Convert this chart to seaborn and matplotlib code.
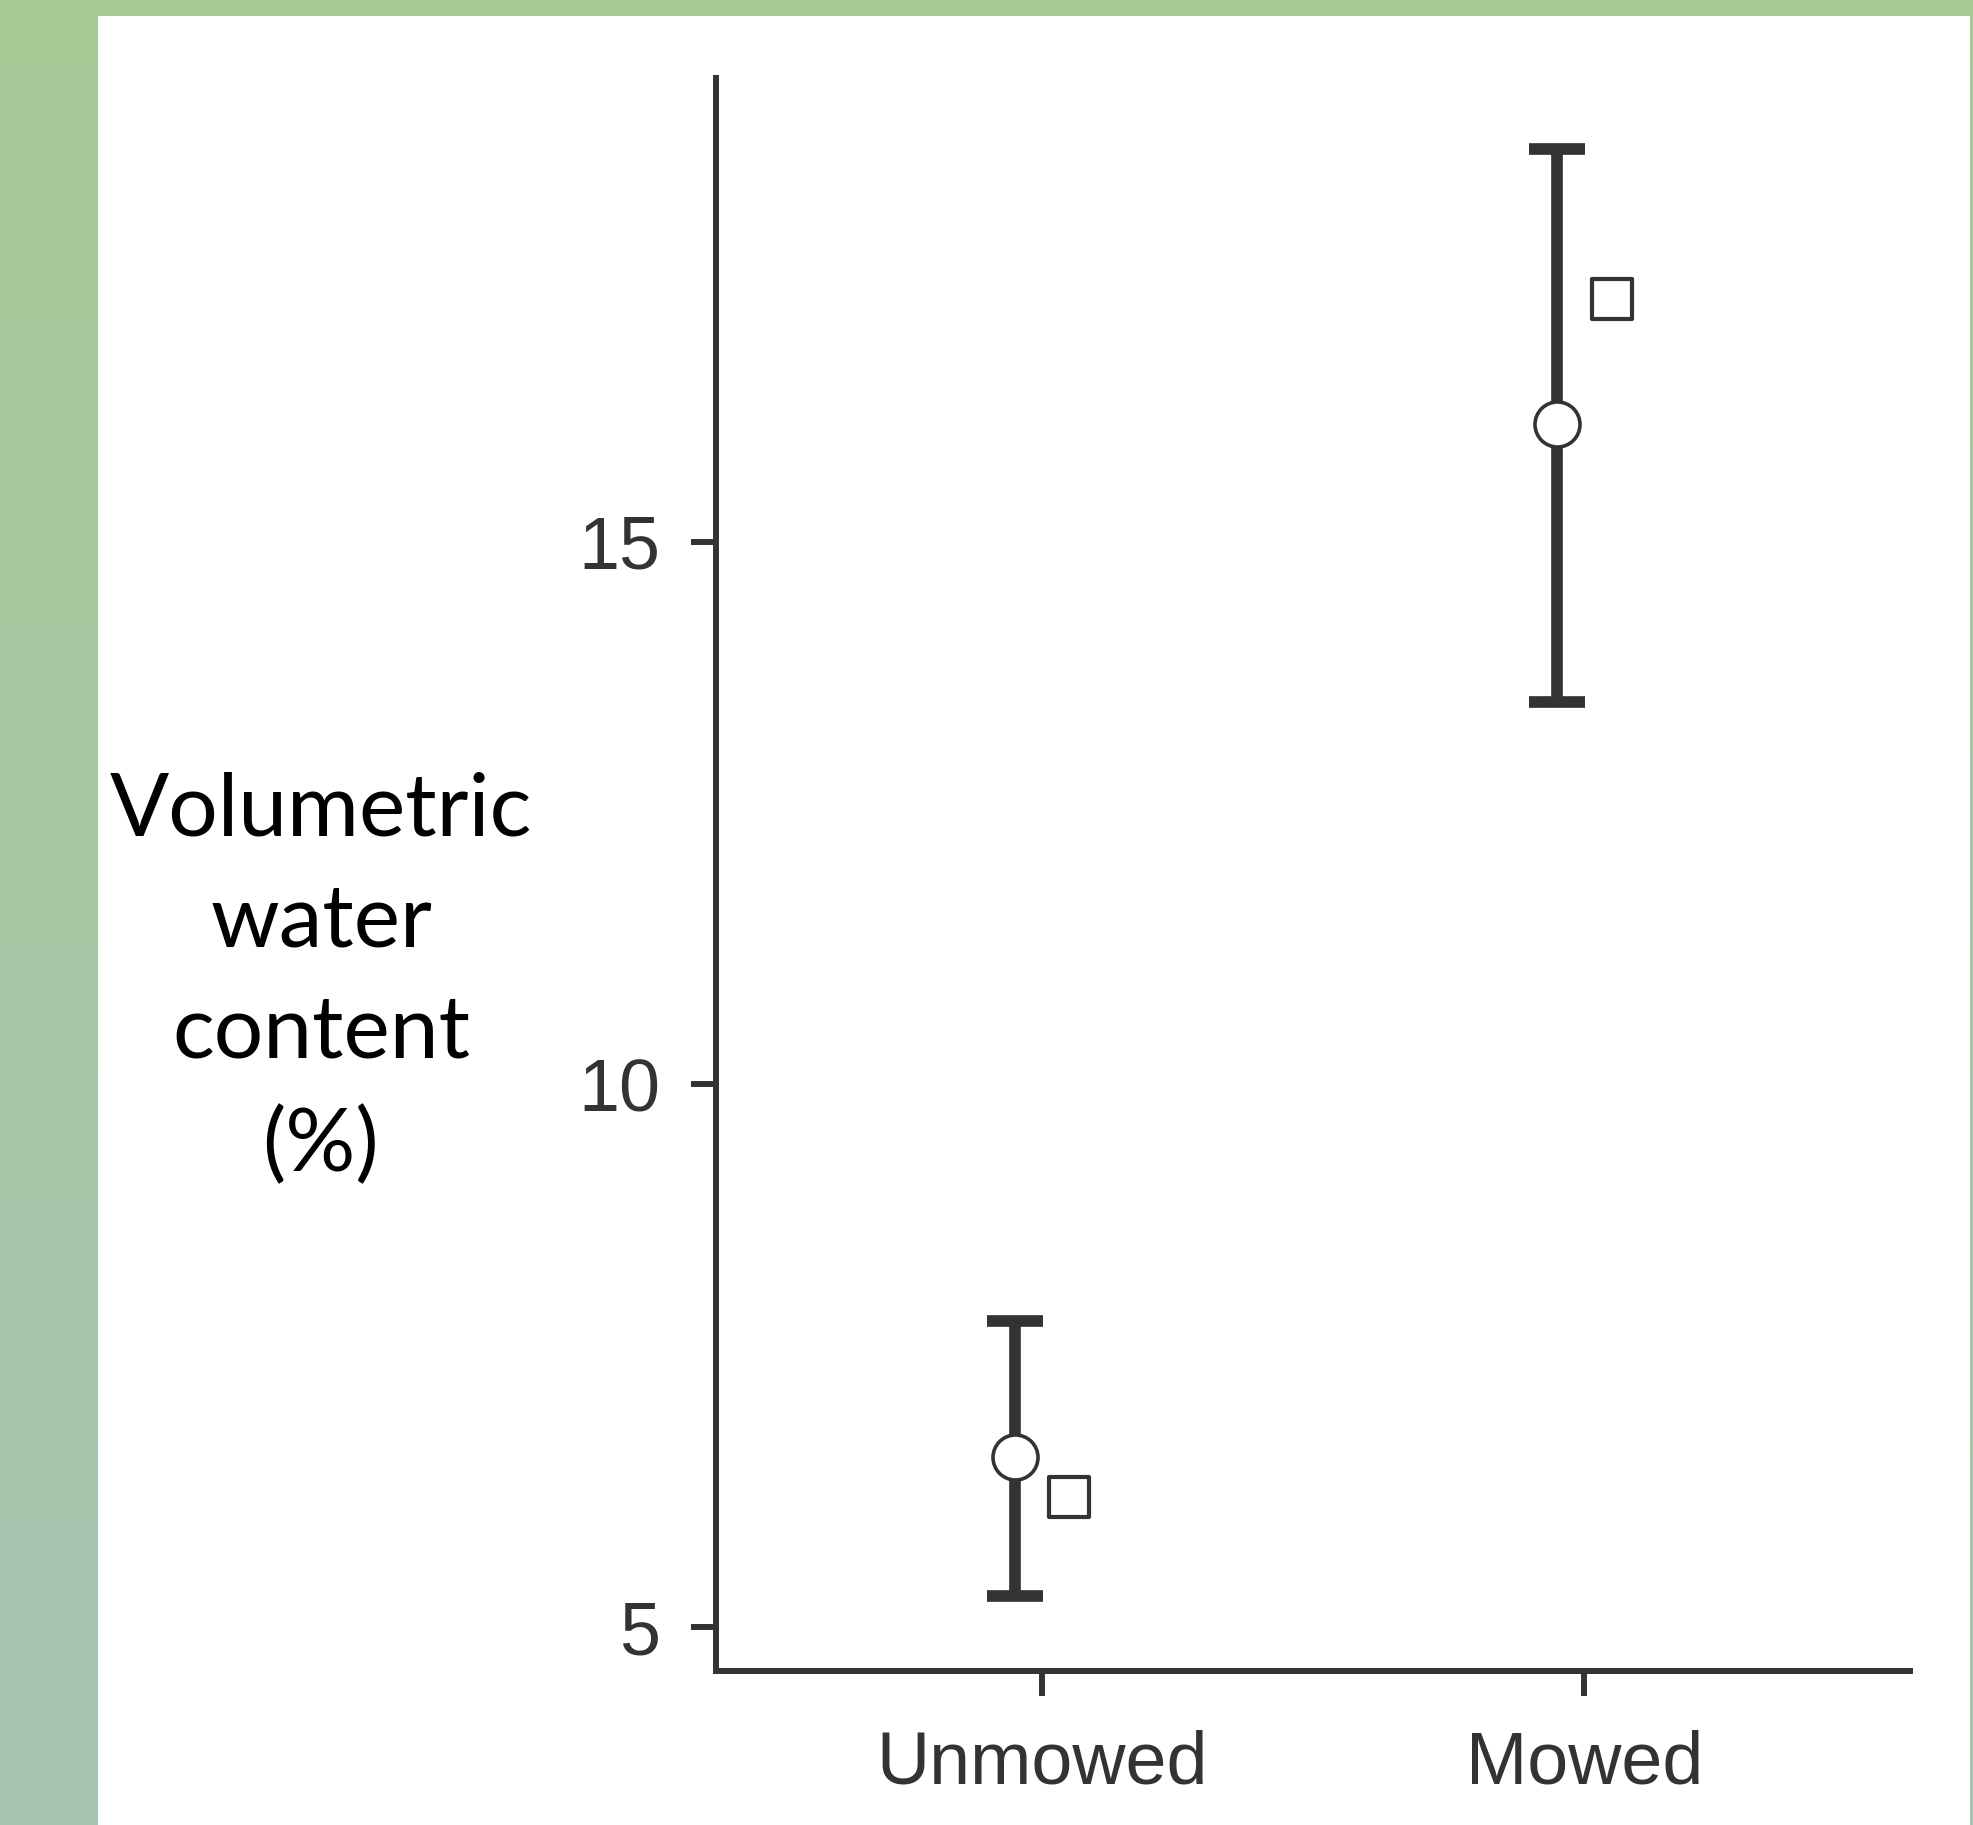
import numpy as np
import pandas as pd
import seaborn as sns
import matplotlib.pyplot as plt
from matplotlib.patches import Rectangle

# data
categories = ["Unmowed", "Mowed"]
mean_vals = [6.57, 16.08]
ci_low = [5.29, 13.52]
ci_high = [7.82, 18.62]
square_vals = [6.2, 17.23]

sns.set_theme(style="ticks")
plt.rcParams['font.family'] = ['Liberation Sans', 'DejaVu Sans']

W, H = 1973, 1825
fig = plt.figure(figsize=(W / 100, H / 100), dpi=100)

# green gradient background with white panel
bg = fig.add_axes([0, 0, 1, 1], zorder=-10)
top = np.array([165, 202, 149]) / 255
bot = np.array([166, 196, 178]) / 255
t = np.linspace(0, 1, 256)[:, None]
grad = (top[None, :] * (1 - t) + bot[None, :] * t)[:, None, :]
bg.imshow(grad, aspect="auto", extent=[0, 1, 0, 1])
bg.add_patch(Rectangle((98 / W, 0), (1970 - 98) / W, 1 - 16 / H,
                       facecolor="white", edgecolor="none"))
bg.set_xlim(0, 1)
bg.set_ylim(0, 1)
bg.axis("off")

ax = fig.add_axes([716 / W, 1 - 1671 / H, (1910 - 716) / W, (1671 - 78) / H])
ax.set_facecolor("none")

idx = np.arange(len(categories))
df = pd.DataFrame({"pos": np.concatenate([idx - 0.05, idx + 0.05]),
                   "value": mean_vals + square_vals,
                   "kind": ["mean"] * 2 + ["other"] * 2})

dark = "#333333"
mean = np.array(mean_vals)
ax.errorbar(idx - 0.05, mean,
            yerr=[mean - np.array(ci_low), np.array(ci_high) - mean],
            fmt="none", ecolor=dark, elinewidth=8.4, capsize=20.5,
            capthick=8.4, zorder=2)

sns.scatterplot(data=df[df.kind == "mean"], x="pos", y="value", ax=ax,
                marker="o", s=1050, facecolor="white", edgecolor=dark,
                linewidth=2.6, zorder=3, legend=False)
sns.scatterplot(data=df[df.kind == "other"], x="pos", y="value", ax=ax,
                marker="s", s=860, facecolor="white", edgecolor=dark,
                linewidth=3, zorder=3, legend=False)

ax.set_xlim(-0.6, 1.6)
ax.set_ylim(4.595, 19.27)
ax.set_xticks(idx)
ax.set_xticklabels(categories)
ax.set_yticks([5, 10, 15])
ax.set_xlabel("")
ax.set_ylabel("")
sns.despine(ax=ax)
for s in ["left", "bottom"]:
    ax.spines[s].set_linewidth(4.3)
    ax.spines[s].set_color(dark)
ax.tick_params(axis="both", length=18, width=4.3, color=dark,
               labelsize=53, labelcolor=dark)
ax.tick_params(axis="y", pad=22)
ax.tick_params(axis="x", pad=24)

fig.text(321 / W, 1 - 979 / H, "Volumetric\nwater\ncontent\n(%)",
         ha="center", va="center", fontsize=63, family=["Lato", "DejaVu Sans"],
         color="black", linespacing=1.5)

fig.savefig("out.png", dpi=100)
